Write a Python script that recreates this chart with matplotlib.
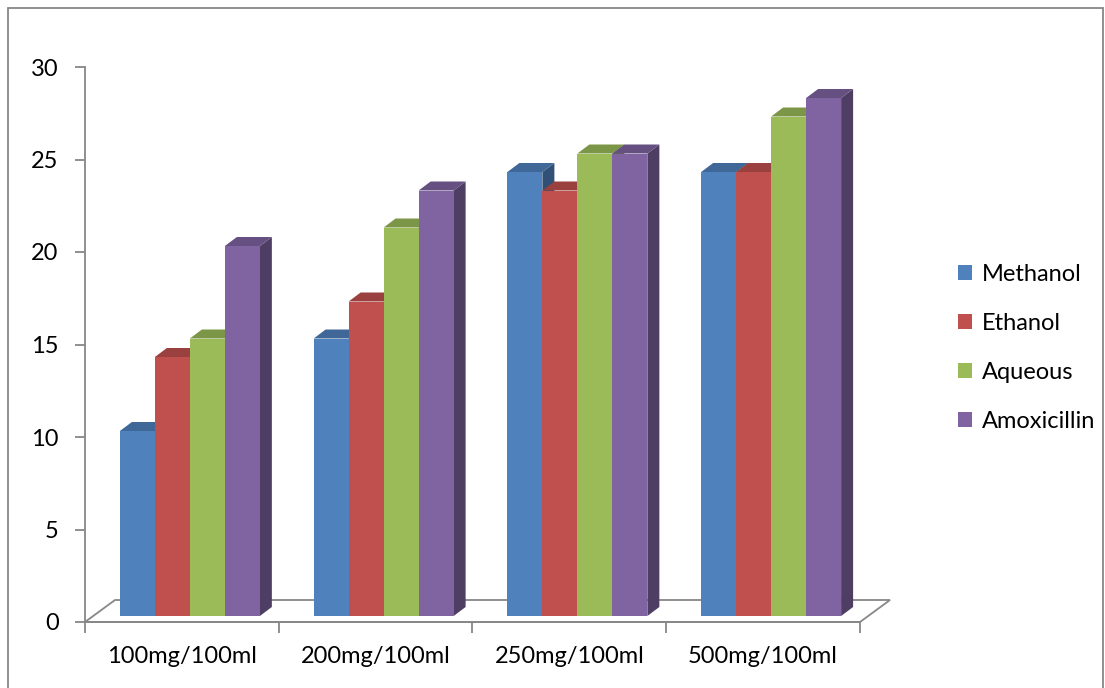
import matplotlib.pyplot as plt
import numpy as np
from matplotlib.patches import Polygon, Rectangle, Patch

plt.rcParams['font.family'] = ['Lato', 'DejaVu Sans']

categories = ['100mg/100ml', '200mg/100ml', '250mg/100ml', '500mg/100ml']
methanol = [10, 15, 24, 24]
ethanol = [14, 17, 23, 24]
aqueous = [15, 21, 25, 27]
amoxicillin = [20, 23, 25, 28]

series = [('Methanol', methanol, '#4F81BD'),
          ('Ethanol', ethanol, '#C0504D'),
          ('Aqueous', aqueous, '#9BBB59'),
          ('Amoxicillin', amoxicillin, '#8064A2')]


def shade(color, f):
    c = np.array(plt.matplotlib.colors.to_rgb(color))
    return tuple(c * f)


W, H = 1105, 688
fig = plt.figure(figsize=(W / 100, H / 100), dpi=100)

# plot area in pixels
x0, x1, y0, y1 = 85, 860, 622, 67
ax = fig.add_axes([x0 / W, (H - y0) / H, (x1 - x0) / W, (y0 - y1) / H])
ax.set_xlim(0, 4)
ax.set_ylim(0, 30)
ax.patch.set_visible(False)

# pixel -> data unit conversion
ux = 4 / (x1 - x0)
uy = 30 / (y0 - y1)

grey = '#878787'
for s in ['top', 'right']:
    ax.spines[s].set_visible(False)
for s in ['left', 'bottom']:
    ax.spines[s].set_color(grey)
    ax.spines[s].set_linewidth(1.3)

# floor of the 3d box
fdx, fdy = 30 * ux, 22 * uy
floor = Polygon([(0, 0), (fdx, fdy), (4 + fdx, fdy), (4, 0)], closed=True,
                fill=False, edgecolor=grey, lw=1.3, clip_on=False, zorder=1)
ax.add_patch(floor)

# bars: front faces set back into the floor a little
sx, sy = 8 * ux, 6 * uy
ddx, ddy = 12 * ux, 9 * uy
n = len(series)
bw = 0.1806
start = 0.5 - n * bw / 2
z = 2
for i in range(len(categories)):
    for j, (name, vals, col) in enumerate(series):
        left = i + start + j * bw + sx
        h = vals[i] + sy
        b = sy
        front = Rectangle((left, b), bw, vals[i], facecolor=col,
                          edgecolor='none', zorder=z)
        top = Polygon([(left, h), (left + bw, h), (left + bw + ddx, h + ddy),
                       (left + ddx, h + ddy)], closed=True,
                      facecolor=shade(col, 0.8), edgecolor='none', zorder=z)
        side = Polygon([(left + bw, b), (left + bw + ddx, b + ddy),
                        (left + bw + ddx, h + ddy), (left + bw, h)], closed=True,
                       facecolor=shade(col, 0.62), edgecolor='none', zorder=z)
        for p in (side, top, front):
            p.set_clip_on(False)
            ax.add_patch(p)
        z += 1

fs = 17

# axes ticks and labels
ax.set_yticks(np.arange(0, 31, 5))
ax.tick_params(axis='y', direction='out', length=7, color=grey, width=1.3,
               labelsize=fs, pad=12)
ax.set_xticks(np.arange(0, 5))
ax.set_xticklabels([])
ax.tick_params(axis='x', which='major', direction='out', length=8, color=grey,
               width=1.3)
ax.set_xticks(np.arange(len(categories)) + 0.5, minor=True)
ax.set_xticklabels(categories, minor=True)
ax.tick_params(axis='x', which='minor', length=0, labelsize=fs, pad=17.5)

handles = [Patch(facecolor=c, edgecolor='none') for _, _, c in series]
fig.legend(handles, [s[0] for s in series], loc='center left',
           bbox_to_anchor=(958 / W, (H - 348) / H), frameon=False,
           fontsize=fs, handlelength=0.6, handleheight=0.6,
           handletextpad=0.4, labelspacing=1.18, borderpad=0,
           borderaxespad=0)

# outer chart border
fig.add_artist(Rectangle((8 / W, -0.01), (1103 - 8) / W, (H - 8) / H + 0.01,
                         transform=fig.transFigure, fill=False,
                         edgecolor=grey, lw=1.3))

fig.savefig('out.png', dpi=100)
